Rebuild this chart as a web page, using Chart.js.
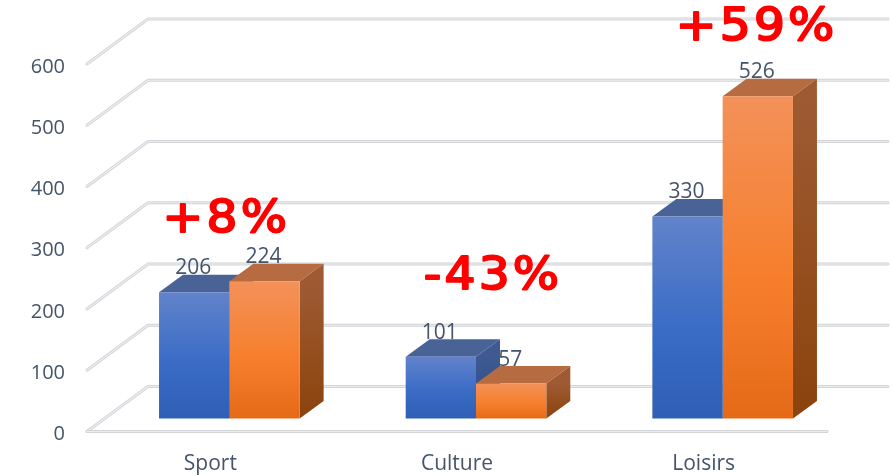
<!DOCTYPE html>
<html>
<head>
<meta charset="utf-8">
<script src="https://cdn.jsdelivr.net/npm/chart.js@4"></script>
<style>
  html, body { margin: 0; padding: 0; background: #fff; }
  canvas { display: block; }
</style>
</head>
<body>
<canvas id="chart" width="892" height="475"></canvas>
<script>
const categories = ['Sport', 'Culture', 'Loisirs'];
const firstValues = [206, 101, 330];
const secondValues = [224, 57, 526];
const gainLabels = ['+8%', '-43%', '+59%'];
const yTicks = [0, 100, 200, 300, 400, 500, 600];

// 3D look
const WALL_DX = 61, WALL_DY = 45;      // floor depth
const BAR_DX = 24, BAR_DY = 17.5;      // bar depth
const SHIFT_X = 19, SHIFT_Y = -13;     // bars stand inside the floor
// red text: x offset from the category, baseline as a value on the y scale
const GAIN_PLACES = [[16, 326], [36, 233], [53, 640]];

const blueFront = ['#6283cb', '#3a6cc6', '#2f5fb5'];
const orangeFront = ['#f39159', '#f67f2d', '#e56a18'];
const sideColors = [['#3f5a92', '#264a86'], ['#9e5b33', '#8b430d']];
const topColors = ['#4a6397', '#b66b41'];

function frontGradient(ctx, stops) {
  const chart = ctx.chart;
  const y = chart.scales.y;
  if (!y || ctx.parsed === undefined) return stops[1];
  const top = y.getPixelForValue(ctx.parsed.y);
  const bottom = y.getPixelForValue(0);
  if (!isFinite(top) || !isFinite(bottom)) return stops[1];
  const g = chart.ctx.createLinearGradient(0, top, 0, bottom);
  g.addColorStop(0, stops[0]);
  g.addColorStop(0.55, stops[1]);
  g.addColorStop(1, stops[2]);
  return g;
}

function wallLine(ctx, points) {
  ctx.save();
  ctx.lineJoin = 'round';
  ctx.lineCap = 'round';
  [[3, '#d2d4d8'], [1.2, '#ecedef']].forEach(([w, c]) => {
    ctx.lineWidth = w;
    ctx.strokeStyle = c;
    ctx.beginPath();
    points.forEach((p, i) => i ? ctx.lineTo(p[0], p[1]) : ctx.moveTo(p[0], p[1]));
    ctx.stroke();
  });
  ctx.restore();
}

const wallPlugin = {
  id: 'wall',
  beforeDatasetsDraw(chart) {
    const { ctx, chartArea, scales } = chart;
    yTicks.forEach(t => {
      const py = scales.y.getPixelForValue(t);
      wallLine(ctx, [
        [chartArea.left, py],
        [chartArea.left + WALL_DX, py - WALL_DY],
        [chartArea.right + WALL_DX, py - WALL_DY]
      ]);
    });
    // floor front edge
    const y0 = scales.y.getPixelForValue(0);
    wallLine(ctx, [[chartArea.left, y0], [chartArea.right, y0]]);

    // top and side faces, blue first so orange covers them
    ctx.save();
    ctx.translate(SHIFT_X, SHIFT_Y);
    [0, 1].forEach(i => {
      chart.getDatasetMeta(i).data.forEach(bar => {
        const half = bar.width / 2;
        const l = bar.x - half, r = bar.x + half;
        const t = bar.y, b = bar.base;
        ctx.fillStyle = topColors[i];
        ctx.beginPath();
        ctx.moveTo(l, t);
        ctx.lineTo(l + BAR_DX, t - BAR_DY);
        ctx.lineTo(r + BAR_DX, t - BAR_DY);
        ctx.lineTo(r, t);
        ctx.closePath();
        ctx.fill();
        const g = ctx.createLinearGradient(0, t, 0, b);
        g.addColorStop(0, sideColors[i][0]);
        g.addColorStop(1, sideColors[i][1]);
        ctx.fillStyle = g;
        ctx.beginPath();
        ctx.moveTo(r, t);
        ctx.lineTo(r + BAR_DX, t - BAR_DY);
        ctx.lineTo(r + BAR_DX, b - BAR_DY);
        ctx.lineTo(r, b);
        ctx.closePath();
        ctx.fill();
      });
    });
    ctx.restore();
  },
  beforeDatasetDraw(chart) {
    chart.ctx.save();
    chart.ctx.translate(SHIFT_X, SHIFT_Y);
  },
  afterDatasetDraw(chart) {
    chart.ctx.restore();
  },
  afterDatasetsDraw(chart) {
    const { ctx, scales } = chart;
    ctx.save();
    // value labels
    ctx.font = '21px "Open Sans"';
    ctx.fillStyle = '#44546a';
    ctx.textAlign = 'center';
    ctx.textBaseline = 'alphabetic';
    [0, 1].forEach(i => {
      chart.getDatasetMeta(i).data.forEach((bar, k) => {
        const v = chart.data.datasets[i].data[k];
        ctx.fillText(v, bar.x + SHIFT_X - 1, bar.y + SHIFT_Y - 18);
      });
    });
    // red change labels, stretched a little like the original
    ctx.font = '45px "DejaVu Sans"';
    ctx.fillStyle = '#ff0000';
    ctx.strokeStyle = '#ff0000';
    ctx.lineWidth = 2;
    ctx.lineJoin = 'round';
    ctx.letterSpacing = '3px';
    gainLabels.forEach((txt, k) => {
      ctx.save();
      ctx.translate(scales.x.getPixelForValue(k) + GAIN_PLACES[k][0], scales.y.getPixelForValue(GAIN_PLACES[k][1]));
      ctx.scale(1.08, 1);
      ctx.fillText(txt, 0, 0);
      ctx.strokeText(txt, 0, 0);
      ctx.restore();
    });
    ctx.restore();
  }
};

new Chart(document.getElementById('chart'), {
  type: 'bar',
  data: {
    labels: categories,
    datasets: [
      {
        label: 'Avant',
        data: firstValues,
        backgroundColor: c => frontGradient(c, blueFront),
        borderWidth: 0,
        clip: false
      },
      {
        label: 'Après',
        data: secondValues,
        backgroundColor: c => frontGradient(c, orangeFront),
        borderWidth: 0,
        clip: false
      }
    ]
  },
  options: {
    responsive: false,
    animation: false,
    categoryPercentage: 0.57,
    barPercentage: 1,
    layout: { padding: { left: 0, right: 65, top: 64, bottom: 0 } },
    scales: {
      x: {
        grid: { display: false },
        border: { display: false },
        afterFit: s => { s.height = 43.5; },
        ticks: { color: '#44546a', font: { family: 'Open Sans', size: 21 }, padding: 12, maxRotation: 0 }
      },
      y: {
        min: 0,
        max: 600,
        grid: { display: false },
        border: { display: false },
        afterFit: s => { s.width = 87; },
        afterBuildTicks: s => { s.ticks = yTicks.map(v => ({ value: v })); },
        ticks: { color: '#44546a', font: { family: 'Open Sans', size: 20 }, padding: 14, labelOffset: 3 }
      }
    },
    plugins: {
      legend: { display: false },
      tooltip: { enabled: false }
    }
  },
  plugins: [wallPlugin]
});
</script>
</body>
</html>
